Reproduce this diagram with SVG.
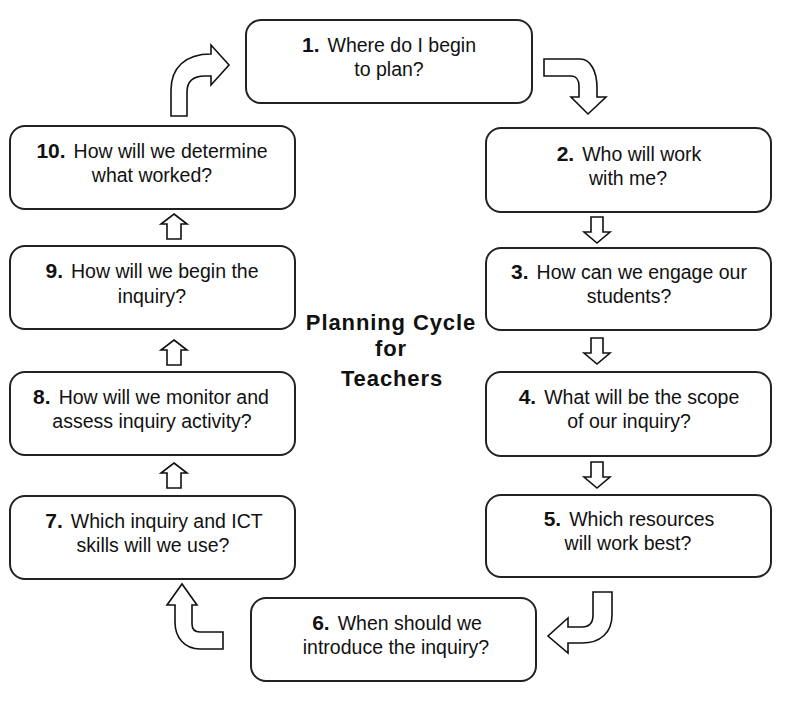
<svg xmlns="http://www.w3.org/2000/svg" xmlns:xlink="http://www.w3.org/1999/xlink" width="796" height="706" viewBox="0 0 796 706">
<style>
.box{fill:#fff;stroke:#222;stroke-width:2}
.t{font-family:"Liberation Sans",Arial,sans-serif;font-size:19.5px;fill:#111;text-anchor:middle}
.n{font-weight:bold;font-size:21px}
.arr{fill:#fff;stroke:#111;stroke-width:1.6;stroke-linejoin:miter}
.title{font-family:"Liberation Sans",Arial,sans-serif;font-size:22px;font-weight:bold;fill:#111;text-anchor:middle;letter-spacing:0.9px}
</style>
<defs>
<path id="down" class="arr" d="M-6,0 L6,0 L6,15 L13,15 L0,26 L-13,15 L-6,15 Z"/>
<path id="up" class="arr" d="M0,0 L13,10 L7,10 L7,25 L-7,25 L-7,10 L-13,10 Z"/>
</defs>
<rect width="796" height="706" fill="#fff"/>
<g id="connectors">
<path class="arr" d="M171,116 L171,90 C171,68 185,54 211,54 L211,45 L229,65 L211,85 L211,76 L205,76 C193,76 187,82 187,92 L187,116 Z"/>
<path class="arr" d="M544,59 L580,59 C591,59 597,72 597,88 L597,97 L606,97 L588,114 L571,97 L579,97 L579,86 C579,80 576,76 571,76 L544,76 Z"/>
<path class="arr" d="M593,592 L612,592 L612,615 C612,633 600,643 582,643 L568,643 L568,653 L548,636 L568,618 L568,627 L582,627 C589,627 593,623 593,615 Z"/>
<path class="arr" d="M223,632 L223,649 L200,649 C185,649 175,638 175,622 L175,605 L167,605 L182,584 L197,605 L192,605 L192,624 C192,629 195,632 200,632 Z"/>
<use xlink:href="#down" href="#down" x="597" y="217"/>
<use xlink:href="#down" href="#down" x="597" y="338"/>
<use xlink:href="#down" href="#down" x="597" y="462"/>
<use xlink:href="#up" href="#up" x="174" y="214"/>
<use xlink:href="#up" href="#up" x="174" y="340"/>
<use xlink:href="#up" href="#up" x="174" y="463"/>
</g>
<g id="node1">
<rect class="box" x="246" y="20" width="286" height="83" rx="15"/>
<text class="t" x="389" y="52"><tspan class="n">1.</tspan><tspan dx="8">Where do I begin</tspan></text>
<text class="t" x="389" y="76">to plan?</text>
</g>
<g id="node2">
<rect class="box" x="486" y="128" width="285" height="84" rx="15"/>
<text class="t" x="629" y="161"><tspan class="n">2.</tspan><tspan dx="8">Who will work</tspan></text>
<text class="t" x="628" y="185">with me?</text>
</g>
<g id="node3">
<rect class="box" x="486" y="248" width="285" height="82" rx="15"/>
<text class="t" x="629" y="279"><tspan class="n">3.</tspan><tspan dx="8">How can we engage our</tspan></text>
<text class="t" x="629" y="303">students?</text>
</g>
<g id="node4">
<rect class="box" x="486" y="372" width="285" height="84" rx="15"/>
<text class="t" x="629" y="404"><tspan class="n">4.</tspan><tspan dx="8">What will be the scope</tspan></text>
<text class="t" x="629" y="428">of our inquiry?</text>
</g>
<g id="node5">
<rect class="box" x="486" y="495" width="285" height="82" rx="15"/>
<text class="t" x="629" y="526"><tspan class="n">5.</tspan><tspan dx="8">Which resources</tspan></text>
<text class="t" x="628" y="550">will work best?</text>
</g>
<g id="node6">
<rect class="box" x="251" y="598" width="285" height="83" rx="15"/>
<text class="t" x="397" y="630"><tspan class="n">6.</tspan><tspan dx="8">When should we</tspan></text>
<text class="t" x="396" y="654">introduce the inquiry?</text>
</g>
<g id="node7">
<rect class="box" x="10" y="496" width="285" height="83" rx="15"/>
<text class="t" x="154" y="528"><tspan class="n">7.</tspan><tspan dx="8">Which inquiry and ICT</tspan></text>
<text class="t" x="153" y="552">skills will we use?</text>
</g>
<g id="node8">
<rect class="box" x="10" y="372" width="285" height="83" rx="15"/>
<text class="t" x="151" y="404"><tspan class="n">8.</tspan><tspan dx="8">How will we monitor and</tspan></text>
<text class="t" x="152" y="428">assess inquiry activity?</text>
</g>
<g id="node9">
<rect class="box" x="10" y="246" width="285" height="83" rx="15"/>
<text class="t" x="152" y="278"><tspan class="n">9.</tspan><tspan dx="8">How will we begin the</tspan></text>
<text class="t" x="152" y="303">inquiry?</text>
</g>
<g id="node10">
<rect class="box" x="10" y="126" width="285" height="83" rx="15"/>
<text class="t" x="152" y="158"><tspan class="n">10.</tspan><tspan dx="8">How will we determine</tspan></text>
<text class="t" x="152" y="182">what worked?</text>
</g>
<g id="title">
<text class="title" x="391" y="330">Planning Cycle</text>
<text class="title" x="391" y="356">for</text>
<text class="title" x="392" y="386">Teachers</text>
</g>
</svg>
